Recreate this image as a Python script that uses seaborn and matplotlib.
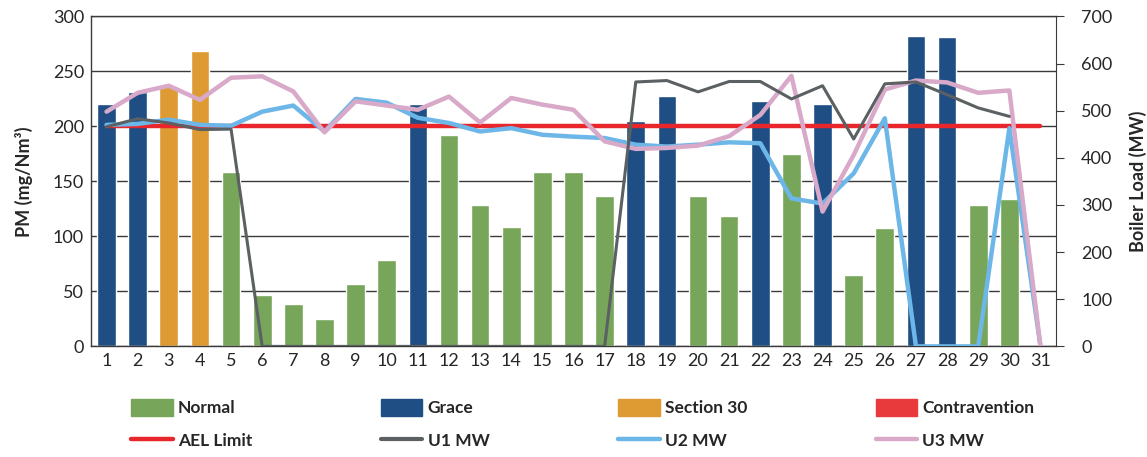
import numpy as np
import pandas as pd
import seaborn as sns
import matplotlib.pyplot as plt
from matplotlib.patches import Patch
from matplotlib.lines import Line2D

days = [str(d) for d in range(1, 32)]

# PM per day (mg/Nm3) and its category; day 31 has no bar
pm = [220, 231, 237, 269, 159, 47, 39, 25, 57, 79,
      220, 192, 129, 109, 159, 159, 137, 205, 228, 137,
      119, 223, 175, 220, 65, 108, 282, 281, 129, 134]
category = ["Grace", "Grace", "Section 30", "Section 30", "Normal", "Normal", "Normal", "Normal", "Normal", "Normal",
            "Grace", "Normal", "Normal", "Normal", "Normal", "Normal", "Normal", "Grace", "Grace", "Normal",
            "Normal", "Grace", "Normal", "Grace", "Normal", "Normal", "Grace", "Grace", "Normal", "Normal"]

ael_limit = [200] * 31

# boiler load (MW)
u1_mw = [466, 483, 474, 460, 461, 0, 0, 0, 0, 0,
         0, 0, 0, 0, 0, 0, 0, 561, 564, 540,
         562, 562, 525, 553, 440, 557, 561, 534, 506, 488, np.nan]
u2_mw = [470, 472, 481, 470, 468, 498, 511, 456, 525, 517,
         485, 474, 456, 463, 449, 445, 442, 428, 424, 428,
         433, 431, 314, 303, 367, 484, 0, 0, 0, 463, 0]
u3_mw = [498, 538, 553, 523, 570, 573, 541, 454, 520, 511,
         502, 530, 475, 527, 513, 502, 435, 419, 421, 426,
         446, 491, 574, 286, 406, 545, 564, 560, 538, 543, 0]

colors = {"Normal": "#77a55a", "Grace": "#1f4e85", "Section 30": "#de9a33",
          "Contravention": "#e83a3d"}
ael_color = "#e8262c"
u1_color = "#5b6063"
u2_color = "#6db6e8"
u3_color = "#d8a9c8"

sns.set_style("white")
plt.rcParams["font.family"] = ["Lato", "DejaVu Sans"]

bars = pd.DataFrame({"Day": days[:30], "PM": pm, "Category": category})
x = np.arange(31)

fig = plt.figure(figsize=(11.47, 4.57), dpi=100)
ax = fig.add_axes([0.0793, 0.242, 0.8414, 0.722])

sns.barplot(data=bars, x="Day", y="PM", hue="Category", order=days,
            hue_order=["Normal", "Grace", "Section 30"], palette=colors,
            dodge=False, width=0.6, saturation=1, legend=False, ax=ax, zorder=2)
ax.plot(x, ael_limit, color=ael_color, lw=3.2, zorder=3)

ax.set_ylim(0, 300)
ax.set_xlim(-0.5, 30.5)
ax.set_yticks(range(0, 301, 50))
ax.yaxis.grid(True, color="#3a3a3a", lw=1.0, zorder=0)
ax.set_axisbelow(True)
ax.set_xlabel("")
ax.set_ylabel("PM (mg/Nm³)", fontsize=13, fontweight="bold", labelpad=14)
ax.tick_params(axis="both", labelsize=13, length=0, pad=5)
for s in ["left", "bottom", "top"]:
    ax.spines[s].set_color("#3a3a3a")
    ax.spines[s].set_linewidth(1.0)
ax.spines["right"].set_visible(False)

ax2 = ax.twinx()
lines = pd.DataFrame({"x": np.tile(x, 3),
                      "MW": u1_mw + u2_mw + u3_mw,
                      "Unit": ["U1 MW"] * 31 + ["U2 MW"] * 31 + ["U3 MW"] * 31})
sns.lineplot(data=lines[lines.Unit == "U2 MW"], x="x", y="MW", color=u2_color, lw=3.2, ax=ax2, legend=False)
sns.lineplot(data=lines[lines.Unit == "U3 MW"], x="x", y="MW", color=u3_color, lw=3.2, ax=ax2, legend=False)
sns.lineplot(data=lines[lines.Unit == "U1 MW"], x="x", y="MW", color=u1_color, lw=2.2, ax=ax2, legend=False)
ax2.set_ylim(0, 700)
ax2.set_xlim(-0.5, 30.5)
ax2.set_yticks(range(0, 701, 100))
ax2.set_xlabel("")
ax2.set_ylabel("Boiler Load (MW)", fontsize=13, fontweight="bold", labelpad=12)
ax2.tick_params(axis="y", labelsize=13, length=6, color="#3a3a3a", pad=12, right=True)
ax2.grid(False)
for s in ["left", "top", "bottom"]:
    ax2.spines[s].set_visible(False)
ax2.spines["right"].set_color("#3a3a3a")

handles = [
    Patch(color=colors["Normal"], label="Normal"),
    Line2D([], [], color=ael_color, lw=3.2, label="AEL Limit"),
    Patch(color=colors["Grace"], label="Grace"),
    Line2D([], [], color=u1_color, lw=3, label="U1 MW"),
    Patch(color=colors["Section 30"], label="Section 30"),
    Line2D([], [], color=u2_color, lw=3.2, label="U2 MW"),
    Patch(color=colors["Contravention"], label="Contravention"),
    Line2D([], [], color=u3_color, lw=3.2, label="U3 MW"),
]
fig.legend(handles=handles, ncol=4, loc="center", bbox_to_anchor=(0.508, 0.072),
           frameon=False, prop={"size": 12.5, "weight": "bold"},
           handlelength=2.4, handleheight=1.1, handletextpad=0.3,
           columnspacing=7.4, labelspacing=0.9)

fig.savefig("out.png", dpi=100)
